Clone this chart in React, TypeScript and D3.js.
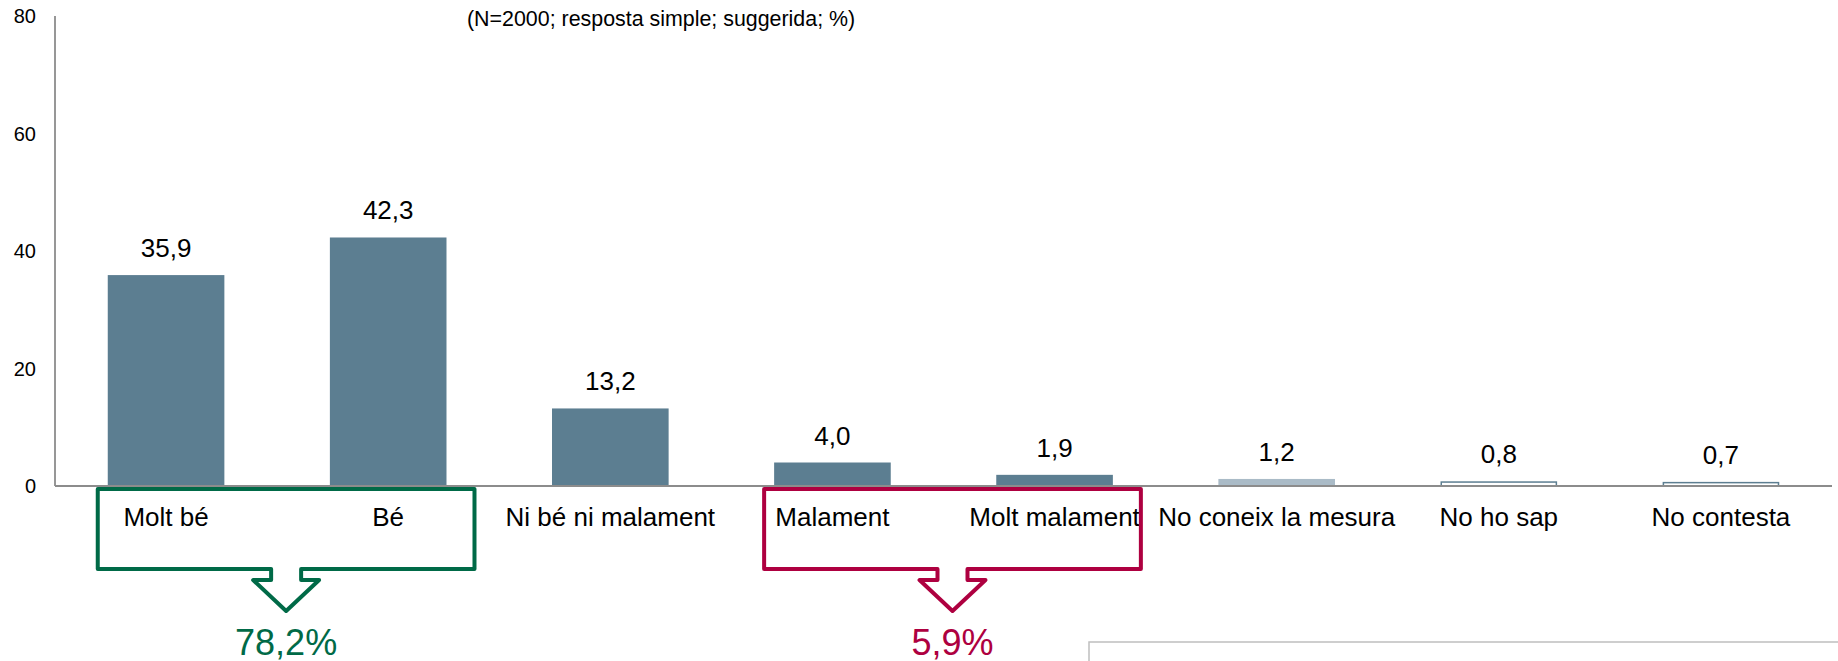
import React from 'react';
import * as d3 from 'd3';

const categories = [
  'Molt bé',
  'Bé',
  'Ni bé ni malament',
  'Malament',
  'Molt malament',
  'No coneix la mesura',
  'No ho sap',
  'No contesta',
];
const values = [35.9, 42.3, 13.2, 4.0, 1.9, 1.2, 0.8, 0.7];
const yTicks = [0, 20, 40, 60, 80];
const subtitle = '(N=2000; resposta simple; suggerida; %)';

// grouped totals shown under the boxes
const groups = [
  { members: ['Molt bé', 'Bé'], color: '#006A47' },
  { members: ['Malament', 'Molt malament'], color: '#AE0040' },
];

const WIDTH = 1838;
const HEIGHT = 661;
const FONT = 'Liberation Sans, Arial, sans-serif';

const DARK = '#5C7E91';
const LIGHT = '#AABBC7';

const fmt = (v: number) => v.toFixed(1).replace('.', ',');

const barStyle = (c: string) => {
  if (c === 'No coneix la mesura') return { fill: LIGHT, stroke: 'none' };
  if (c === 'No ho sap' || c === 'No contesta') return { fill: '#fff', stroke: DARK };
  return { fill: DARK, stroke: 'none' };
};

const App = () => {
  const x = d3.scaleBand<string>()
    .domain(categories)
    .range([55, 1832])
    .paddingInner(0.475)
    .paddingOuter(0.2375);

  const y = d3.scaleLinear().domain([0, 80]).range([486, 16]);
  const bw = x.bandwidth();

  return (
    <div style={{ position: 'absolute', left: 0, top: 0 }}>
      <svg width={WIDTH} height={HEIGHT} style={{ display: 'block' }} fontFamily={FONT}>
        <rect width={WIDTH} height={HEIGHT} fill="#fff" />

        <text x={467} y={26} fontSize={21.4} fill="#000">{subtitle}</text>

        {/* y tick labels */}
        {yTicks.map(t => (
          <text key={t} x={36} y={y(t)} dy="0.35em" textAnchor="end" fontSize={20} fill="#000">
            {t}
          </text>
        ))}

        {/* bars */}
        {categories.map((c, i) => {
          const s = barStyle(c);
          const outlined = s.stroke !== 'none';
          return (
            <rect
              key={c}
              x={x(c)! + (outlined ? 0.75 : 0)}
              y={y(values[i]) + (outlined ? 0.75 : 0)}
              width={bw - (outlined ? 1.5 : 0)}
              height={y(0) - y(values[i]) - (outlined ? 0.75 : 0)}
              fill={s.fill}
              stroke={s.stroke}
              strokeWidth={1.5}
            />
          );
        })}

        {/* axes */}
        <line x1={55} x2={55} y1={y(80)} y2={y(0)} stroke="#8C8C8C" strokeWidth={1.8} />
        <line x1={55} x2={1832} y1={y(0)} y2={y(0)} stroke="#8C8C8C" strokeWidth={1.8} />

        {/* value labels */}
        {categories.map((c, i) => (
          <text key={c} x={x(c)! + bw / 2} y={y(values[i]) - 18} textAnchor="middle" fontSize={26} fill="#000">
            {fmt(values[i])}
          </text>
        ))}

        {/* category labels */}
        {categories.map(c => (
          <text key={c} x={x(c)! + bw / 2} y={526} textAnchor="middle" fontSize={26} fill="#000">
            {c}
          </text>
        ))}

        {/* group boxes with arrows */}
        {groups.map((g, gi) => {
          const first = g.members[0];
          const last = g.members[g.members.length - 1];
          const left = x(first)! - 10;
          const right = x(last)! + bw + 28;
          const top = 489;
          const bottom = 569;
          const cx = (left + right) / 2;
          const p = d3.path();
          p.moveTo(cx - 15, bottom);
          p.lineTo(left, bottom);
          p.lineTo(left, top);
          p.lineTo(right, top);
          p.lineTo(right, bottom);
          p.lineTo(cx + 15, bottom);
          p.lineTo(cx + 15, bottom + 11);
          p.lineTo(cx + 33, bottom + 11);
          p.lineTo(cx, bottom + 42);
          p.lineTo(cx - 33, bottom + 11);
          p.lineTo(cx - 15, bottom + 11);
          p.closePath();
          const total = d3.sum(g.members, m => values[categories.indexOf(m)]);
          return (
            <g key={gi}>
              <path d={p.toString()} fill="none" stroke={g.color} strokeWidth={4} strokeLinejoin="round" />
              <text x={cx} y={655} textAnchor="middle" fontSize={36} fill={g.color}>
                {fmt(total)}%
              </text>
            </g>
          );
        })}

        {/* partial frame at bottom right */}
        <rect x={1089} y={642} width={800} height={100} fill="none" stroke="#BFBFBF" strokeWidth={1.5} />
      </svg>
    </div>
  );
};

export default App;
